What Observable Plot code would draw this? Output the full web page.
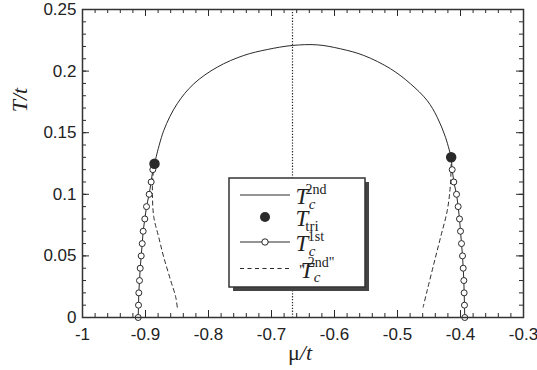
<!DOCTYPE html>
<html><head><meta charset="utf-8">
<script src="https://cdn.jsdelivr.net/npm/d3@7"></script>
<script src="https://cdn.jsdelivr.net/npm/@observablehq/plot@0.6"></script>
<style>body{margin:0;background:#fff}#chart{width:537px;height:370px}
.serif{font-family:"Liberation Serif","Times New Roman",serif !important}</style>
</head><body><div id="chart"></div>
<script>
// ---- data ----
const xTicks = [-1, -0.9, -0.8, -0.7, -0.6, -0.5, -0.4, -0.3];
const yTicks = [0, 0.05, 0.1, 0.15, 0.2, 0.25];
const muSymmetric = [-2 / 3];

// second-order line T_c^2nd (arc)
const arcMu = [-0.8857, -0.871, -0.8497, -0.8233, -0.7862, -0.744, -0.7068, -0.667, -0.6275, -0.5905, -0.5535, -0.5111, -0.4794, -0.4529, -0.437, -0.4238, -0.4148];
const arcT  = [0.1248, 0.1518, 0.1735, 0.1897, 0.2032, 0.2127, 0.2175, 0.2208, 0.2213, 0.2181, 0.2127, 0.2019, 0.1897, 0.1761, 0.1626, 0.1463, 0.1301];

// tricritical points
const triMu = [-0.8857, -0.4148];
const triT  = [0.1248, 0.1301];

// first-order lines
const firstT   = [0.12, 0.11, 0.10, 0.09, 0.08, 0.07, 0.06, 0.05, 0.04, 0.03, 0.02, 0.01, 0];
const firstMuL = [-0.8884, -0.8910, -0.8942, -0.8984, -0.9011, -0.9037, -0.9052, -0.9068, -0.9084, -0.9095, -0.9106, -0.9111, -0.9116];
const firstMuR = [-0.4132, -0.4106, -0.4063, -0.4037, -0.4016, -0.4000, -0.3984, -0.3968, -0.3957, -0.3947, -0.3942, -0.3937, -0.3932];

// dashed "T_c^2nd"
const dashMuL = [-0.8857, -0.8885, -0.8890, -0.8868, -0.879, -0.871, -0.860, -0.852, -0.849];
const dashTL  = [0.1248, 0.113, 0.100, 0.0814, 0.0652, 0.0489, 0.030, 0.0165, 0.006];
const dashMuR = [-0.4148, -0.4159, -0.421, -0.4317, -0.4423, -0.4529, -0.4593];
const dashTR  = [0.1301, 0.1085, 0.0869, 0.065, 0.0436, 0.0219, 0.0084];

// ---- build tables ----
const zip = (xs, ys) => xs.map((x, i) => ({mu: x, T: ys[i]}));
const arc = zip(arcMu, arcT);
const tri = zip(triMu, triT);
const firstL = zip(firstMuL, firstT);
const firstR = zip(firstMuR, firstT);
const dashL = zip(dashMuL, dashTL);
const dashR = zip(dashMuR, dashTR);

const W = 537, H = 370, mL = 82, mR = 14, mT = 9, mB = 53;
const pW = W - mL - mR, pH = H - mT - mB;
const majorLen = 7, minorLen = 4;
const xMinor = d3.range(0, 36).map(i => +(-1 + i * 0.02).toFixed(2));
const yMinor = d3.range(0, 26).map(i => +(i * 0.01).toFixed(2));
const ink = "#2a2a2a";

const tickMarks = (len, xs, ys) => [
  Plot.ruleX(xs, {x: d => d, insetTop: pH - len, stroke: ink, strokeWidth: 1}),
  Plot.ruleX(xs, {x: d => d, insetBottom: pH - len, stroke: ink, strokeWidth: 1}),
  Plot.ruleY(ys, {y: d => d, insetRight: pW - len, stroke: ink, strokeWidth: 1}),
  Plot.ruleY(ys, {y: d => d, insetLeft: pW - len, stroke: ink, strokeWidth: 1})
];

const svg = Plot.plot({
  width: W, height: H,
  marginLeft: mL, marginRight: mR, marginTop: mT, marginBottom: mB,
  x: {domain: [-1, -0.3]},
  y: {domain: [0, 0.25]},
  style: {fontFamily: "'Liberation Sans', Arial, sans-serif", fontSize: "17px", color: "#222", background: "white"},
  marks: [
    Plot.ruleX(muSymmetric, {x: d => d, stroke: ink, strokeWidth: 1.2, strokeDasharray: "1.3,1.6"}),
    Plot.line(arc, {x: "mu", y: "T", curve: "catmull-rom", stroke: ink, strokeWidth: 1}),
    Plot.line(dashL, {x: "mu", y: "T", curve: "catmull-rom", stroke: ink, strokeWidth: 1, strokeDasharray: "4,3.5"}),
    Plot.line(dashR, {x: "mu", y: "T", curve: "catmull-rom", stroke: ink, strokeWidth: 1, strokeDasharray: "4,3.5"}),
    Plot.line([tri[0], ...firstL], {x: "mu", y: "T", stroke: ink, strokeWidth: 1}),
    Plot.line([tri[1], ...firstR], {x: "mu", y: "T", stroke: ink, strokeWidth: 1}),
    Plot.dot(firstL, {x: "mu", y: "T", r: 3, fill: "white", stroke: ink, strokeWidth: 1}),
    Plot.dot(firstR, {x: "mu", y: "T", r: 3, fill: "white", stroke: ink, strokeWidth: 1}),
    Plot.dot(tri, {x: "mu", y: "T", r: 4.5, fill: ink, stroke: ink}),
    ...tickMarks(minorLen, xMinor, yMinor),
    ...tickMarks(majorLen, xTicks, yTicks),
    Plot.frame({stroke: "#333", strokeWidth: 1.5}),
    Plot.axisX({ticks: xTicks, tickSize: 0, tickPadding: 10, tickFormat: d => String(d), label: null}),
    Plot.axisY({ticks: yTicks, tickSize: 0, tickPadding: 6, tickFormat: d => String(d), label: null})
  ]
});
document.getElementById("chart").append(svg);

// ---- axis titles and legend ----
const s = d3.select(svg);
s.append("text").attr("class", "serif").attr("transform", "translate(27,100) rotate(-90)")
  .attr("text-anchor", "middle").style("font-size", "22px")
  .style("font-style", "italic").attr("fill", "#222").text("T/t");
const xl = s.append("text").attr("class", "serif").attr("x", 300).attr("y", 360).attr("text-anchor", "middle")
  .style("font-size", "22px").attr("fill", "#222");
xl.append("tspan").text("μ");
xl.append("tspan").style("font-style", "italic").text("/t");

const legendRows = [
  {kind: "line", pre: "", sub: "c", subItalic: true, sup: "2nd"},
  {kind: "dot", pre: "", sub: "tri", subItalic: false, sup: ""},
  {kind: "lineDot", pre: "", sub: "c", subItalic: true, sup: "1st"},
  {kind: "dash", pre: "\"", sub: "c", subItalic: true, sup: "2nd\""}
];
const rowY = [195, 217, 242, 268.5];
const lg = s.append("g");
lg.append("rect").attr("x", 233).attr("y", 182).attr("width", 136).attr("height", 109).attr("fill", "#444");
lg.append("rect").attr("x", 229).attr("y", 178).attr("width", 136).attr("height", 109)
  .attr("fill", "white").attr("stroke", "#333").attr("stroke-width", 1.5);
legendRows.forEach((r, i) => {
  const y = rowY[i];
  if (r.kind !== "dot") {
    lg.append("line").attr("x1", 240).attr("x2", 290).attr("y1", y).attr("y2", y)
      .attr("stroke", ink).attr("stroke-width", 1)
      .attr("stroke-dasharray", r.kind === "dash" ? "4,3.5" : null);
  }
  if (r.kind === "dot") lg.append("circle").attr("cx", 265).attr("cy", y).attr("r", 5).attr("fill", ink);
  if (r.kind === "lineDot") lg.append("circle").attr("cx", 265).attr("cy", y).attr("r", 3.2)
    .attr("fill", "white").attr("stroke", ink);
  const x0 = r.pre ? 307 : 302;
  const t = lg.append("text").attr("class", "serif").attr("fill", "#222")
    .attr("x", r.pre ? 302 : x0).attr("y", y + 9).style("font-size", "23px");
  if (r.pre) t.append("tspan").attr("dy", -3).style("font-size", "15px").text(r.pre);
  t.append("tspan").attr("x", x0).attr("y", y + 9).style("font-style", "italic").text("T");
  t.append("tspan").attr("x", x0 + 10).attr("y", y + 13.5).style("font-size", "15px")
    .style("font-style", r.subItalic ? "italic" : "normal").text(r.sub);
  if (r.sup) t.append("tspan").attr("x", x0 + 14).attr("y", y - 1.5).style("font-size", "14px").text(r.sup);
});
</script>
</body></html>
